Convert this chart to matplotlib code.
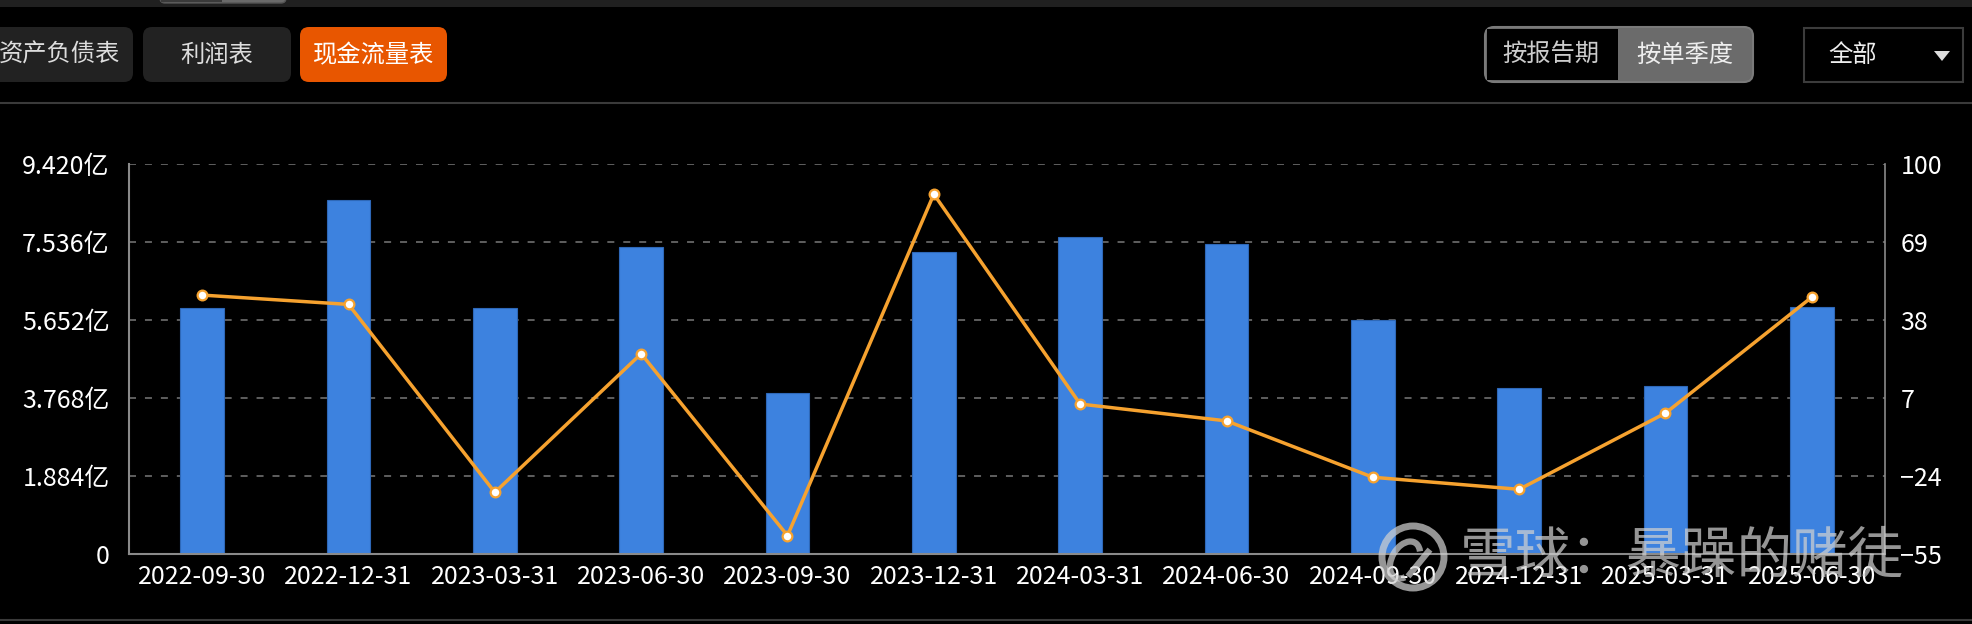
import numpy as np
import matplotlib
matplotlib.use('Agg')
import matplotlib.pyplot as plt
from matplotlib.patches import FancyBboxPatch, Rectangle, Circle, Polygon, Arc

plt.rcParams['font.family'] = ['Noto Sans CJK SC', 'DejaVu Sans']

# ---------------------------------------------------------------------------
# data
# ---------------------------------------------------------------------------
dates = ['2022-09-30', '2022-12-31', '2023-03-31', '2023-06-30',
         '2023-09-30', '2023-12-31', '2024-03-31', '2024-06-30',
         '2024-09-30', '2024-12-31', '2025-03-31', '2025-06-30']
cash_flow = [5.93, 8.55, 5.95, 7.42, 3.88, 7.30, 7.65, 7.49, 5.65, 4.01, 4.05, 5.97]  # 亿
growth = [47.9, 44.2, -30.5, 24.6, -47.7, 88.0, 4.6, -2.1, -24.5, -29.3, 1.0, 47.1]

left_ticks = [0, 1.884, 3.768, 5.652, 7.536, 9.420]
left_labels = ['0', '1.884亿', '3.768亿', '5.652亿', '7.536亿', '9.420亿']
right_ticks = [-55, -24, 7, 38, 69, 100]

tabs = ['资产负债表', '利润表', '现金流量表']
period_opts = ['按报告期', '按单季度']
range_opt = '全部'
watermark = '雪球：暴躁的赌徒'

W, H = 1972, 624
BAR_BLUE = '#3D82DF'
LINE_ORANGE = '#F6A22F'
GRID = '#5f5f5f'
AXIS = '#8a8a8a'

fig = plt.figure(figsize=(W / 100, H / 100), dpi=100, facecolor='black')

# ---------------------------------------------------------------------------
# main chart
# ---------------------------------------------------------------------------
ax = fig.add_axes([129 / W, 1 - 554 / H, (1885 - 129) / W, (554 - 164) / H])
ax.set_facecolor('black')
x = np.arange(len(dates))
ax.set_xlim(-0.5, len(dates) - 0.5)
ax.set_ylim(0, 9.42)

for t in left_ticks[1:]:
    ax.axhline(t, color=GRID, lw=1.4, linestyle=(0, (3.6, 4.6)), zorder=1)
ax.bar(x, cash_flow, width=0.3, color=BAR_BLUE, edgecolor='#2E68B8',
       linewidth=0.8, zorder=2)

ax.set_yticks(left_ticks)
ax.set_yticklabels(left_labels)
ax.set_xticks(x)
ax.set_xticklabels(dates)
ax.tick_params(axis='both', length=0, colors='white', labelsize=18)
ax.tick_params(axis='y', pad=14)
ax.tick_params(axis='x', pad=7)
for side in ['top', 'right']:
    ax.spines[side].set_visible(False)
for side in ['left', 'bottom']:
    ax.spines[side].set_color(AXIS)
    ax.spines[side].set_linewidth(1.5)

ax2 = ax.twinx()
ax2.set_ylim(-55, 100)
ax2.plot(x, growth, '-o', color=LINE_ORANGE, lw=2.5, markersize=7,
         markerfacecolor='white', markeredgecolor=LINE_ORANGE,
         markeredgewidth=1.6, zorder=5)
ax2.set_yticks(right_ticks)
ax2.tick_params(axis='y', length=0, colors='white', labelsize=18, pad=11)
for side in ['top', 'left', 'bottom']:
    ax2.spines[side].set_visible(False)
ax2.spines['right'].set_color(AXIS)
ax2.spines['right'].set_linewidth(1.2)

# ---------------------------------------------------------------------------
# overlay: header controls, separators, watermark (pixel coordinates)
# ---------------------------------------------------------------------------
ov = fig.add_axes([0, 0, 1, 1], facecolor='none')
ov.set_xlim(0, W)
ov.set_ylim(H, 0)
ov.axis('off')

ov.add_patch(Rectangle((0, 0), W, 7, color='#202020', lw=0))
ov.add_patch(FancyBboxPatch((160, -8), 126, 11, boxstyle='round,pad=0,rounding_size=5',
                            fc='#6a6a6a', ec='#555555', lw=1))
ov.add_patch(Rectangle((161, -8), 61, 10, color='#3a3a3a', lw=0))
ov.add_line(plt.Line2D([0, W], [103, 103], color='#3a3a3a', lw=1.5))
ov.add_line(plt.Line2D([0, W], [620, 620], color='#3a3a3a', lw=1.5))

tab_boxes = [(-15, 133), (143, 291), (300, 447)]
for (x0, x1), name in zip(tab_boxes, tabs):
    active = name == '现金流量表'
    ov.add_patch(FancyBboxPatch((x0, 27), x1 - x0, 55,
                                boxstyle='round,pad=0,rounding_size=9',
                                fc='#E85600' if active else '#222222', ec='none'))
    ov.text((x0 + x1) / 2, 55, name, color='white' if active else '#dddddd',
            fontsize=17.5, ha='center', va='center')

ov.add_patch(FancyBboxPatch((1485, 27), 268, 55, boxstyle='round,pad=0,rounding_size=9',
                            fc='#6b6b6b', ec='#7a7a7a', lw=1.5))
ov.add_patch(Rectangle((1487, 29), 131, 51, color='black', lw=0))
ov.text(1551, 55, period_opts[0], color='#cccccc', fontsize=17.5, ha='center', va='center')
ov.text(1685, 55, period_opts[1], color='#eeeeee', fontsize=17.5, ha='center', va='center')

ov.add_patch(Rectangle((1804, 28), 159, 54, fc='black', ec='#3c3c3c', lw=1.5))
ov.text(1853, 55, range_opt, color='#eeeeee', fontsize=17.5, ha='center', va='center')
ov.add_patch(Polygon([[1934, 51], [1950, 51], [1942, 61]], closed=True,
                     fc='#dddddd', ec='none'))

# watermark
wm = dict(color='#d0d0d0', alpha=0.72)
ov.add_patch(Circle((1413, 557), 31, fill=False, lw=5, **wm))
ov.add_patch(Arc((1405, 560), 26, 40, angle=30, theta1=60, theta2=300, lw=4.5, **wm))
ov.add_line(plt.Line2D([1410, 1428], [574, 552], lw=4.5, **wm))
ov.text(1460, 557, watermark, fontsize=40, ha='left', va='center', **wm)

fig.savefig('out.png', dpi=100, facecolor='black')
